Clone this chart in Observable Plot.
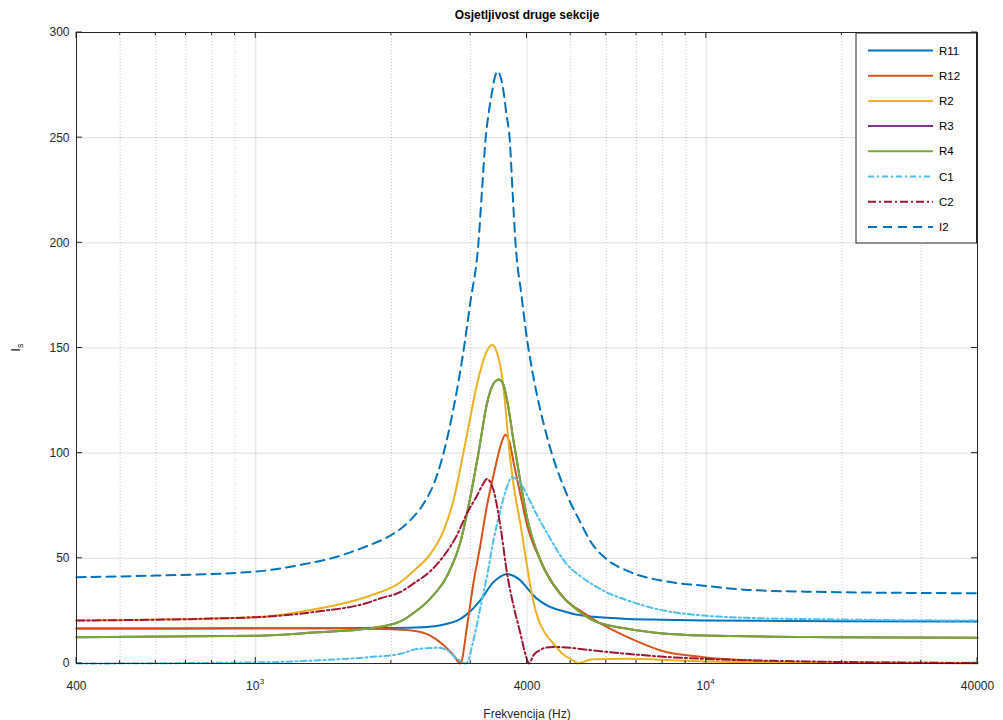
<!DOCTYPE html>
<html><head><meta charset="utf-8">
<script src="https://cdn.jsdelivr.net/npm/d3@7"></script>
<script src="https://cdn.jsdelivr.net/npm/@observablehq/plot@0.6"></script>
<style>
html,body{margin:0;padding:0;background:#fff;}
#chart{width:1003px;height:720px;}
</style></head><body><div id="chart"></div>
<script>
// ---- data (frequency Hz, sensitivity) ----
const seriesNames = ["R11","R12","R2","R3","R4","C1","C2","I2"];
const seriesColors = ["#0072BD","#D95319","#EDB120","#7E2F8E","#77AC30","#4DBEEE","#A2142F","#0072BD"];
const seriesDash = [null,null,null,null,null,"6,3,2,3","8,3,2,3","9,6"];

const r11 = [[400,16.6],[1000,16.7],[1500,16.8],[2000,16.9],[2250,17.1],[2500,17.7],[2660,18.9],[2800,20.4],[2950,23.6],[3150,30],[3370,38.7],[3500,41.4],[3610,42.6],[3740,41.6],[3870,39.5],[4000,36],[4135,32.3],[4430,27.6],[4910,24.4],[5260,22.9],[5620,22.2],[6690,21.2],[7920,20.8],[9860,20.5],[15000,20.2],[40000,20]];
const r12 = [[400,16.6],[1000,16.7],[1500,16.7],[1890,16.4],[2240,15.6],[2440,13.3],[2610,8.8],[2750,3.8],[2845,0],[2950,18.9],[3040,37.9],[3150,56],[3260,75],[3375,90],[3500,104],[3580,108.8],[3660,105],[3740,95],[3870,80],[4000,66],[4285,49],[4434,42.6],[4750,33],[4910,29.5],[5260,25],[5620,21],[6000,17.5],[6690,12.5],[7920,6.2],[9860,3.0],[12330,1.5],[15620,0.6],[40000,0.1]];
const r2 = [[400,20.4],[1000,22],[1370,26],[1780,32],[2090,38.5],[2240,44],[2440,52],[2610,63],[2750,78],[2877,98],[3000,118],[3100,133],[3235,147],[3348,151.5],[3440,147],[3493,141],[3560,128],[3660,100],[3733,85],[3870,66],[4004,46],[4100,33],[4222,22],[4400,14],[4580,9.5],[4800,4.5],[5073,1.4],[5180,0],[5400,1.2],[5620,2],[6690,2.3],[7920,1.8],[9860,1],[15620,0.5],[40000,0.3]];
const r4 = [[400,12.5],[1000,13.2],[1370,14.8],[1780,16.6],[2096,20],[2240,24],[2443,31],[2664,42],[2848,58],[3000,80],[3121,100],[3263,124],[3370,133],[3463,135],[3540,133],[3614,125],[3733,106],[3870,86],[4004,69],[4285,49],[4748,33],[5073,27],[5620,20.4],[6688,16.5],[7917,14.4],[9861,13.3],[18557,12.5],[40000,12.2]];
const r3 = [[400,12.5],[1000,13.2],[1370,14.8],[1780,16.6],[2096,20],[2240,24],[2443,31],[2664,42],[2848,58],[3000,80],[3121,100],[3263,124],[3370,133],[3463,135],[3540,133],[3614,125],[3733,106],[3870,86],[4004,69],[4285,49],[4748,33],[5073,27],[5620,20.4],[6688,16.5],[7917,14.4],[9861,13.3],[18557,12.5],[40000,12.2]];
const c1 = [[400,0],[1000,0.5],[1370,1.5],[1780,3],[2096,4.6],[2239,6.5],[2443,7.4],[2532,7.5],[2664,6.2],[2770,3],[2930,0],[3042,11],[3153,26.8],[3268,42.6],[3370,58.5],[3493,73],[3600,83],[3708,88.6],[3800,87.5],[3900,84.5],[4004,80],[4200,71],[4434,62],[4660,54],[4911,47],[5258,41.5],[5620,37.3],[5990,34],[6688,30],[7917,25.5],[9861,22.8],[12329,21.7],[20000,20.9],[40000,20.4]];
const c2 = [[400,20.4],[1000,22],[1370,24.7],[1780,29],[1892,31],[2096,34],[2239,38],[2443,44],[2611,51],[2780,60],[2953,72],[3101,80],[3180,84.5],[3265,87.8],[3320,86],[3375,82],[3493,65],[3614,42.6],[3740,26.8],[3870,14],[3950,6],[4025,0.5],[4040,0],[4135,4],[4285,6.5],[4396,7.5],[4579,7.9],[4748,7.8],[5620,6.2],[6688,4.6],[7917,3.3],[9861,2.2],[15619,1.1],[40000,0.2]];
const i2 = [[400,41],[600,41.8],[1000,43.7],[1250,46.8],[1500,50.5],[1750,55.5],[1958,60],[2150,66],[2357,76],[2480,85],[2611,100],[2734,119],[2877,145.6],[2996,172],[3121,200],[3178,225],[3235,248.7],[3290,262],[3348,272],[3396,279],[3445,281.5],[3493,279],[3547,272],[3596,262],[3663,248.7],[3714,225],[3772,200],[3889,175],[4004,153.6],[4135,136],[4434,107.6],[4911,80],[5258,67],[5535,58],[5977,50],[6688,44],[8333,38.7],[9861,37],[12329,35],[18557,34],[40000,33.4]];
const seriesData = [r11, r12, r2, r3, r4, c1, c2, i2];

const xTicks = [400, 1000, 4000, 10000, 40000];
const xTickBase = ["400", "10", "4000", "10", "40000"];
const xTickSup = ["", "3", "", "4", ""];
const xMinor = [500,600,700,800,900,2000,3000,5000,6000,7000,8000,9000,20000,30000];
const yTicks = [0, 50, 100, 150, 200, 250, 300];

const titleText = "Osjetljivost druge sekcije";
const xLabel = "Frekvencija (Hz)";

// ---- chart ----
const tickLabels = xTicks.map((x, i) => ({x, base: xTickBase[i], sup: xTickSup[i]}));
const ink = "#262626";

const chart = Plot.plot({
  width: 1003,
  height: 720,
  marginLeft: 76,
  marginRight: 26,
  marginTop: 32,
  marginBottom: 57,
  style: {fontFamily: "'Liberation Sans', Arial, sans-serif", fontSize: "12px", color: ink, background: "#fff"},
  x: {type: "log", domain: [400, 40000], axis: null},
  y: {domain: [0, 300], axis: null},
  marks: [
    Plot.ruleY(yTicks, {y: d => d, stroke: "#000", strokeOpacity: 0.13}),
    Plot.ruleX(xMinor, {x: d => d, stroke: "#000", strokeOpacity: 0.22, strokeDasharray: "1,2"}),
    Plot.ruleX(xTicks, {x: d => d, stroke: "#000", strokeOpacity: 0.13}),
    ...seriesData.map((data, i) => Plot.line(data, {
      x: d => d[0], y: d => d[1],
      stroke: seriesColors[i], strokeWidth: 2,
      strokeDasharray: seriesDash[i] || undefined,
      curve: "monotone-x"
    })),
    Plot.frame({stroke: ink, strokeWidth: 1}),
    Plot.text(yTicks, {y: d => d, text: d => String(d), frameAnchor: "left", dx: -7, textAnchor: "end", fill: ink, fontSize: 12}),
    Plot.text(tickLabels.filter(d => !d.sup), {x: "x", text: "base", frameAnchor: "bottom", dy: 26, fill: ink, fontSize: 12}),
    Plot.text(tickLabels.filter(d => d.sup), {x: "x", text: "base", frameAnchor: "bottom", dy: 26, dx: -3, fill: ink, fontSize: 12}),
    Plot.text(tickLabels.filter(d => d.sup), {x: "x", text: "sup", frameAnchor: "bottom", dy: 20, dx: 4, textAnchor: "start", fill: ink, fontSize: 8}),
    Plot.text([titleText], {frameAnchor: "top", dy: -22, fontWeight: "bold", fill: "#000", fontSize: 12}),
    Plot.text([xLabel], {frameAnchor: "bottom", dy: 54, fill: ink, fontSize: 12})
  ]
});
document.getElementById("chart").appendChild(chart);

// ---- inward ticks, y label, legend (decorations) ----
const sx = chart.scale("x"), sy = chart.scale("y");
const svg = d3.select(chart);
const x0 = sx.apply(400), x1 = sx.apply(40000), yB = sy.apply(0), yT = sy.apply(300);
const tg = svg.append("g").attr("stroke", ink).attr("stroke-width", 1);
xTicks.forEach(v => {
  const X = sx.apply(v);
  tg.append("line").attr("x1", X).attr("x2", X).attr("y1", yB).attr("y2", yB - 6);
  tg.append("line").attr("x1", X).attr("x2", X).attr("y1", yT).attr("y2", yT + 6);
});
xMinor.forEach(v => {
  const X = sx.apply(v);
  tg.append("line").attr("x1", X).attr("x2", X).attr("y1", yB).attr("y2", yB - 3);
  tg.append("line").attr("x1", X).attr("x2", X).attr("y1", yT).attr("y2", yT + 3);
});
yTicks.forEach(v => {
  const Y = sy.apply(v);
  tg.append("line").attr("x1", x0).attr("x2", x0 + 6).attr("y1", Y).attr("y2", Y);
  tg.append("line").attr("x1", x1).attr("x2", x1 - 6).attr("y1", Y).attr("y2", Y);
});

const yl = svg.append("text")
  .attr("transform", `translate(20,${(yB + yT) / 2}) rotate(-90)`)
  .attr("text-anchor", "middle").attr("fill", ink)
  .style("font-family", "'Liberation Sans', Arial, sans-serif").style("font-size", "12px");
yl.append("tspan").text("I");
yl.append("tspan").attr("dy", 3).style("font-size", "9px").text("s");

const lg = svg.append("g").attr("text-anchor", "start")
  .style("font-family", "'Liberation Sans', Arial, sans-serif").style("font-size", "11.5px");
lg.append("rect").attr("x", 856).attr("y", 33).attr("width", 120.5).attr("height", 210)
  .attr("fill", "#fff").attr("stroke", ink).attr("stroke-width", 1);
seriesNames.forEach((name, i) => {
  const Y = 50.5 + i * 25.2;
  lg.append("line").attr("x1", 868).attr("x2", 933).attr("y1", Y).attr("y2", Y)
    .attr("stroke", seriesColors[i]).attr("stroke-width", 2)
    .attr("stroke-dasharray", seriesDash[i] || null);
  lg.append("text").attr("x", 939).attr("y", Y).attr("dy", "0.35em")
    .attr("text-anchor", "start").attr("fill", "#000").text(name);
});
</script>
</body></html>
